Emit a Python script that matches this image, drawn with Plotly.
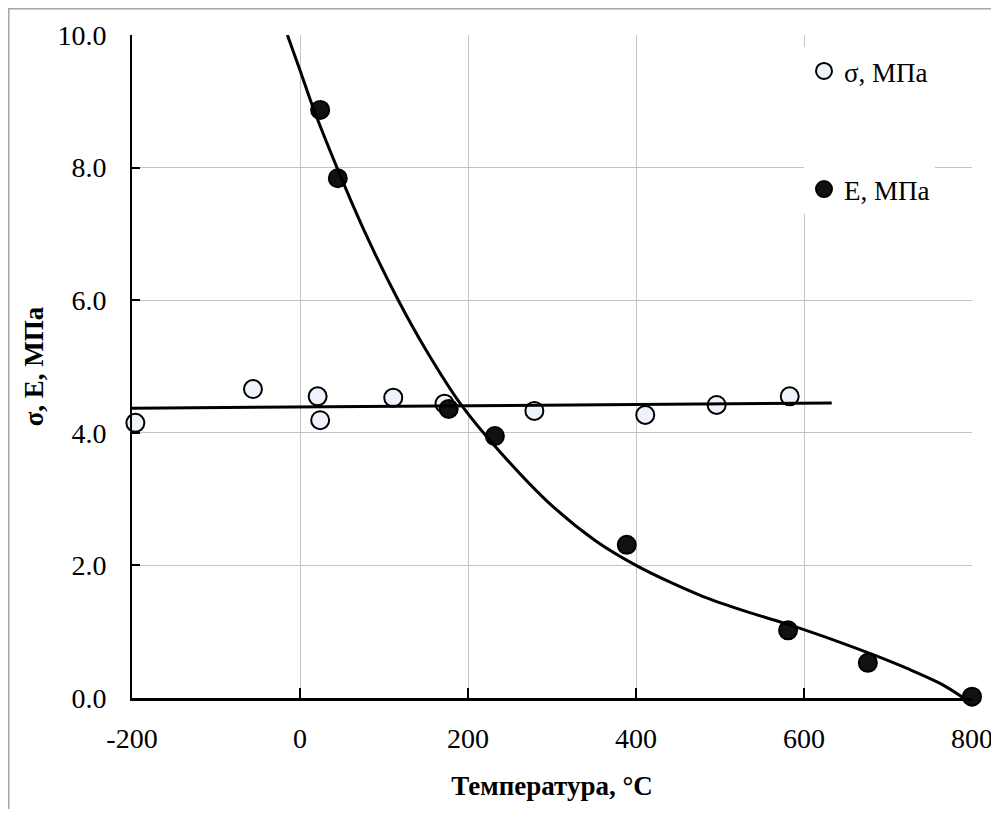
import plotly.graph_objects as go

# --- data ---
sigma_x = [-196, -56, 21, 24, 111, 172, 279, 411, 496, 583]
sigma_y = [4.15, 4.66, 4.55, 4.19, 4.53, 4.44, 4.33, 4.27, 4.42, 4.55]

E_x = [24, 45, 177, 232, 389, 581, 676, 800]
E_y = [8.87, 7.84, 4.36, 3.95, 2.31, 1.02, 0.53, 0.02]

# trend lines
sigma_trend_x = [-200, 633]
sigma_trend_y = [4.37, 4.45]

E_trend_x = [-15, 0, 16, 44, 80, 117, 150, 192, 234, 294, 353, 400, 440, 480, 530, 581, 643, 683, 722, 762, 790]
E_trend_y = [10.0, 9.47, 8.89, 8.0, 6.95, 6.0, 5.25, 4.42, 3.77, 2.97, 2.36, 2.0, 1.75, 1.53, 1.31, 1.11, 0.84, 0.65, 0.45, 0.22, 0.0]

x_ticks = [-200, 0, 200, 400, 600, 800]
x_tick_text = ["-200", "0", "200", "400", "600", "800"]
y_ticks = [0, 2, 4, 6, 8, 10]

FONT = "Liberation Serif"

fig = go.Figure()

fig.add_trace(go.Scatter(
    x=sigma_x, y=sigma_y, mode="markers", name="σ, МПа",
    legendgroup="s",
    marker=dict(symbol="circle", size=18, color="#eef3fb",
                line=dict(color="black", width=2)),
    cliponaxis=False,
))
fig.add_trace(go.Scatter(
    x=E_x, y=E_y, mode="markers", name="E, МПа",
    legendgroup="e",
    marker=dict(symbol="circle", size=18, color="#111111",
                line=dict(color="black", width=2)),
    cliponaxis=False,
))
fig.add_trace(go.Scatter(
    x=sigma_trend_x, y=sigma_trend_y, mode="lines", showlegend=False,
    line=dict(color="black", width=3), hoverinfo="skip",
))
fig.add_trace(go.Scatter(
    x=E_trend_x, y=E_trend_y, mode="lines", showlegend=False,
    line=dict(color="black", width=3, shape="spline", smoothing=1.0),
    hoverinfo="skip",
))

fig.update_layout(
    width=999, height=801,
    margin=dict(l=124, r=35, t=27, b=111, autoexpand=False),
    paper_bgcolor="white", plot_bgcolor="white",
    font=dict(family=FONT, size=28, color="black"),
    showlegend=True,
    legend=dict(
        x=0.8, y=0.982, xanchor="left", yanchor="top",
        bgcolor="white", borderwidth=0,
        font=dict(family=FONT, size=27, color="black"),
        traceorder="grouped", tracegroupgap=80,
        itemwidth=30,
    ),
    shapes=[
        dict(type="rect", xref="paper", yref="paper",
             x0=-0.1467, x1=1.06, y0=-0.2, y1=1.0396,
             line=dict(color="#a6a6a6", width=1.5), layer="below"),
    ],
)

fig.update_xaxes(
    range=[-200, 800],
    tickvals=x_ticks, ticktext=x_tick_text,
    ticks="inside", ticklen=10, tickwidth=2, tickcolor="black",
    showline=True, linecolor="black", linewidth=3,
    showgrid=True, gridcolor="#c4c4c4", gridwidth=1,
    zeroline=False,
    tickfont=dict(family=FONT, size=28, color="black"),
    ticklabelstandoff=13,
    title=dict(text="Температура, °C", standoff=24,
               font=dict(family=FONT, size=27, color="black", weight="bold")),
)
fig.update_yaxes(
    range=[0, 10],
    tickvals=y_ticks, tickformat=".1f",
    ticks="inside", ticklen=8, tickwidth=2, tickcolor="black",
    showline=True, linecolor="black", linewidth=2,
    showgrid=True, gridcolor="#c4c4c4", gridwidth=1,
    zeroline=False,
    tickfont=dict(family=FONT, size=28, color="black"),
    ticklabelstandoff=18,
    title=dict(text="σ, E, МПа", standoff=6,
               font=dict(family=FONT, size=27, color="black", weight="bold")),
)

fig.write_html(
    "out.html",
    post_script="document.documentElement.style.overflow='hidden';document.body.style.overflow='hidden';",
)
